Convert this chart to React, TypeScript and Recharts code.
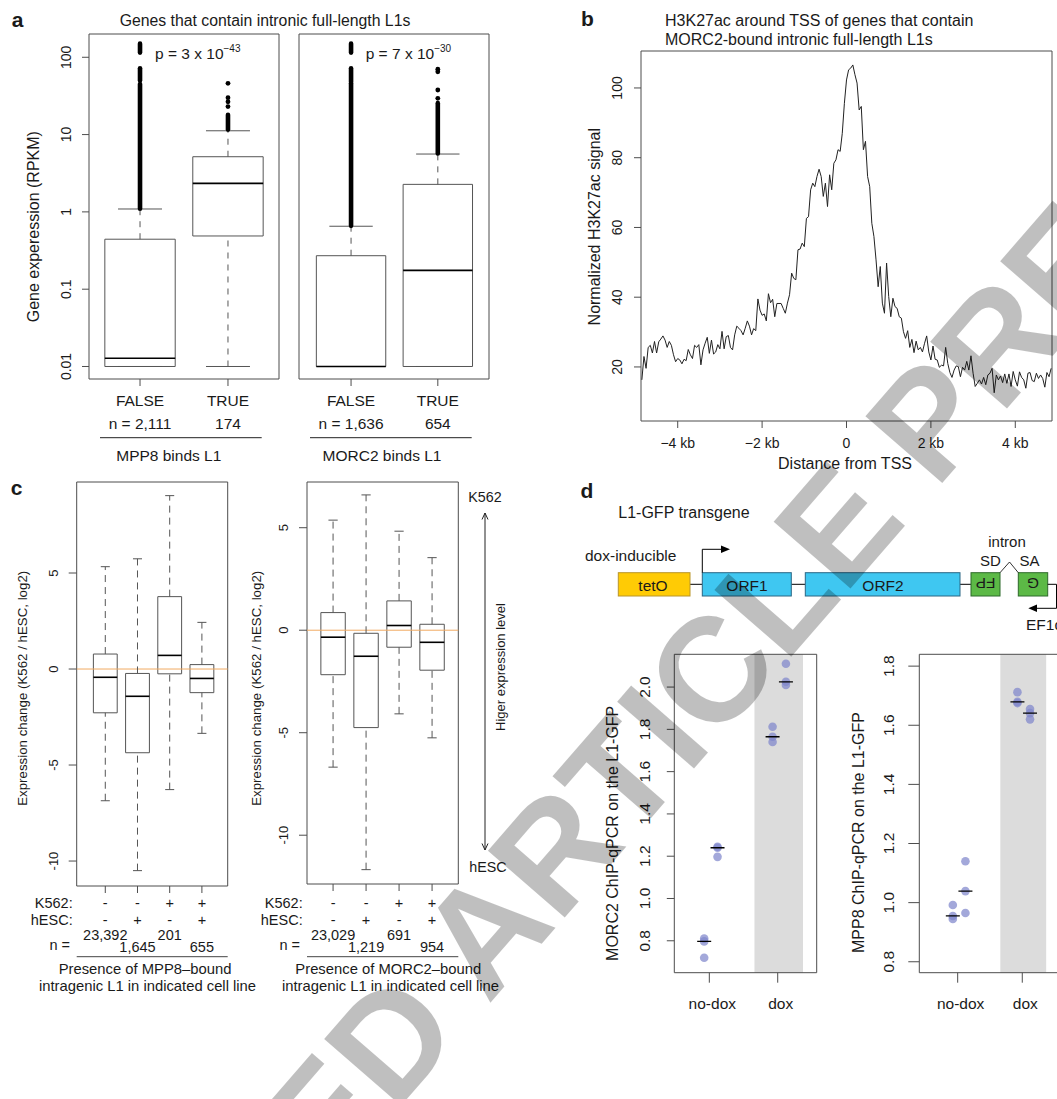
import { ComposedChart, LineChart, Line, XAxis, YAxis, Scatter, ReferenceArea, ReferenceLine } from 'recharts';

const FONT = '"Liberation Sans", Arial, Helvetica, sans-serif';
const INK = '#1a1a1a';
const FRAME = '#4d4d4d';
const BOX = '#555555';
const DOT = '#7f87cc';

// ---- a: expression of genes with intronic full-length L1s (RPKM) ----
const bindLabels = ['FALSE', 'TRUE'];
const mpp8Counts = [2111, 174];
const morc2Counts = [1636, 654];
// [lower whisker, Q1, median, Q3, upper whisker]
const mpp8Expr = [
  [0.01, 0.01, 0.0128, 0.443, 1.09],
  [0.01, 0.488, 2.34, 5.17, 11.2],
];
const morc2Expr = [
  [0.01, 0.01, 0.01, 0.271, 0.652],
  [0.01, 0.01, 0.175, 2.27, 5.6],
];
// dense runs of outliers [from, to] and single outliers
const mpp8OutlierRuns = [[[1.1, 45], [50, 72], [115, 150]], [[11.6, 18]]];
const morc2OutlierRuns = [[[0.66, 46], [48, 72], [115, 150]], [[5.7, 25.5]]];
const mpp8Outliers = [[], [23, 26.6, 30, 46]];
const morc2Outliers = [[], [29.4, 37.7, 65, 70]];
const rpkmTicks = [0.01, 0.1, 1, 10, 100];

// ---- b: H3K27ac profile around TSS, 50 bp bins from -4.85 kb ----
const BIN_START_KB = -4.85;
const BIN_KB = 0.05;
const h3k27acSignal = [
  16.3, 23, 19.6, 25.6, 26.2, 24, 27.3, 24, 27.2, 28.0,
  28.9, 27.7, 25.6, 27.3, 26.2, 23.5, 21.5, 22.4, 22, 20.9,
  22.2, 21.8, 25, 23.5, 22.4, 26.2, 25.6, 26.4, 20.6, 24.9,
  26.8, 28.5, 23.9, 27.7, 23.7, 24.3, 26.4, 25.2, 30.2, 25.2,
  28.7, 29, 25.6, 24.9, 29.2, 31.7, 31.1, 30.4, 29.2, 31.1,
  33.2, 31.7, 29.2, 31, 30.4, 39.5, 36.3, 34.8, 35.2, 33.2,
  41, 38.4, 39.4, 34.4, 38.2, 38.2, 38.2,
  36.8, 35.4, 38.3, 40.7, 46.9, 45.4, 45, 53.6, 53.8, 55.5,
  54.5, 62.6, 63.1, 70.8, 72.7, 71.7, 74.6, 76.7, 74.6, 68.9,
  72.7, 66, 75.1, 70.8, 78.4, 79.4, 82.3, 81.8, 87, 95.6,
  102.3, 105.2, 105.7, 106.6, 103.8, 101.4, 93.7, 94.7, 82.3, 84.7,
  74.6, 71.7, 61.2, 57.4, 50.7, 43, 48.8, 38.3, 35.4, 49.8,
  40.2, 34.4, 39.7, 37.3, 36.8, 34.4,
  34, 30.1, 28.2, 30.4, 25.6, 27.9, 24.1, 27.4, 24.9, 25.6,
  24.3, 26.8, 28.9, 24.3, 22, 26, 22.2, 22, 19.9, 20.5,
  20.3, 25.6, 21, 18.4, 17, 19.1, 20.3, 20.1, 17.2, 19.9,
  19.1, 21.6, 19.1, 23.2, 18.2, 14.4, 15.3, 16.3, 15.1, 17,
  14.9, 17.7, 18.2, 19.6, 12.6, 17.7, 16.3, 17.4, 15.5, 18,
  15.3, 18, 14.4, 18.7, 16.3, 14.5, 18.6, 17, 16.3, 13.9,
  18.2, 18.4, 16.1, 15.8, 18.2, 16.7, 17.7, 16.7, 14.2, 18.4,
  17.2, 19.6,
];
const kbTicks = [-4, -2, 0, 2, 4];
const signalTicks = [20, 40, 60, 80, 100];

// ---- c: expression change K562 / hESC (log2) ----
const k562Present = ['-', '-', '+', '+'];
const hescPresent = ['-', '+', '-', '+'];
const mpp8CellCounts = [23392, 1645, 201, 655];
const morc2CellCounts = [23029, 1219, 691, 954];
const mpp8Change = [
  [-6.86, -2.28, -0.43, 0.78, 5.33],
  [-10.5, -4.36, -1.42, -0.23, 5.74],
  [-6.28, -0.25, 0.71, 3.77, 9.03],
  [-3.35, -1.23, -0.49, 0.23, 2.43],
];
const morc2Change = [
  [-6.68, -2.17, -0.34, 0.86, 5.37],
  [-11.68, -4.75, -1.27, -0.15, 6.6],
  [-4.08, -0.83, 0.23, 1.43, 4.83],
  [-5.25, -1.95, -0.59, 0.29, 3.54],
];
const changeTicks = [-10, -5, 0, 5];

// ---- d: ChIP-qPCR on the L1-GFP transgene ----
const doxConditions = ['no-dox', 'dox'];
// two replicate series, three values per condition
const morc2ChipA = [[0.81, 0.797, 0.72], [1.812, 1.765, 1.74]];
const morc2ChipB = [[1.245, 1.24, 1.197], [2.11, 2.025, 2.01]];
const mpp8ChipA = [[0.992, 0.955, 0.945], [1.712, 1.679, 1.675]];
const mpp8ChipB = [[1.14, 1.039, 0.965], [1.655, 1.641, 1.62]];
const morc2ChipTicks = [0.8, 1.0, 1.2, 1.4, 1.6, 1.8, 2.0];
const mpp8ChipTicks = [0.8, 1.0, 1.2, 1.4, 1.6, 1.8];

type Rect = { x: number; y: number; w: number; h: number };

// axes are 1px wide/high, so the plot area starts right after them
const marginOf = (box: Rect, plot: Rect) => ({
  left: plot.x - box.x - 1,
  top: plot.y - box.y,
  right: box.x + box.w - (plot.x + plot.w),
  bottom: box.y + box.h - (plot.y + plot.h) - 1,
});

const fmtCount = (n: number) => n.toLocaleString('en-US');
const median = (v: number[]) => [...v].sort((a, b) => a - b)[Math.floor(v.length / 2)];

const rotTick = (size: number, label: (v: number) => string) => (props: any) => {
  const { x, y, payload } = props;
  return (
    <text x={x} y={y} transform={`rotate(-90 ${x} ${y})`} textAnchor="middle" dominantBaseline="central"
      fontSize={size} fontFamily={FONT} fill={INK}>
      {label(payload.value)}
    </text>
  );
};

const bindTick = (counts: number[]) => (props: any) => {
  const { x, y, payload } = props;
  const i = Math.round(payload.value) - 1;
  return (
    <g>
      <text x={x} y={y} textAnchor="middle" dominantBaseline="central" fontSize={15.5} fontFamily={FONT} fill={INK}>
        {bindLabels[i]}
      </text>
      <text x={x} y={y + 23.3} textAnchor="middle" dominantBaseline="central" fontSize={15.5} fontFamily={FONT} fill={INK}>
        {i === 0 ? `n = ${fmtCount(counts[i])}` : fmtCount(counts[i])}
      </text>
    </g>
  );
};

const presenceTick = (counts: number[]) => (props: any) => {
  const { x, y, payload } = props;
  const i = Math.round(payload.value) - 1;
  const common = { textAnchor: 'middle' as const, dominantBaseline: 'central' as const, fontSize: 14.5, fontFamily: FONT, fill: INK };
  return (
    <g>
      <text x={x} y={y} {...common}>{k562Present[i]}</text>
      <text x={x} y={y + 16.7} {...common}>{hescPresent[i]}</text>
      <text x={x} y={y + (i % 2 === 0 ? 31.7 : 44)} {...common}>{fmtCount(counts[i])}</text>
    </g>
  );
};

const doxTick = (props: any) => {
  const { x, y, payload } = props;
  return (
    <text x={x + 3} y={y} textAnchor="middle" dominantBaseline="central" fontSize={15.5} fontFamily={FONT} fill={INK}>
      {doxConditions[Math.round(payload.value) - 1]}
    </text>
  );
};

const kbTick = (props: any) => {
  const { x, y, payload } = props;
  const v = payload.value as number;
  const label = v === 0 ? '0' : `${v < 0 ? '\u2212' : ''}${Math.abs(v)} kb`;
  return (
    <text x={x} y={y} textAnchor="middle" dominantBaseline="central" fontSize={14} fontFamily={FONT} fill={INK}>{label}</text>
  );
};

type BoxChartProps = {
  box: Rect;
  plot: Rect;
  xDomain: [number, number];
  yDomain: [number, number];
  log?: boolean;
  stats: number[][];
  halfWidth: number;
  capHalf: number;
  dash: string;
  yTicks: number[];
  yFont: number;
  yTickSize: number;
  yTickMargin: number;
  xTick: (p: any) => any;
  xTickMargin: number;
  runs?: number[][][];
  outliers?: number[][];
  baseline?: number;
};

function BoxChart(p: BoxChartProps) {
  const marks: any[] = [];
  p.stats.forEach(([lo, q1, med, q3, hi], i) => {
    const c = i + 1;
    marks.push(<ReferenceLine key={`wu${i}`} segment={[{ x: c, y: q3 }, { x: c, y: hi }]} stroke={BOX} strokeDasharray={p.dash} ifOverflow="visible" />);
    if (lo < q1) {
      marks.push(<ReferenceLine key={`wl${i}`} segment={[{ x: c, y: lo }, { x: c, y: q1 }]} stroke={BOX} strokeDasharray={p.dash} ifOverflow="visible" />);
    }
    marks.push(<ReferenceLine key={`cu${i}`} segment={[{ x: c - p.capHalf, y: hi }, { x: c + p.capHalf, y: hi }]} stroke={BOX} ifOverflow="visible" />);
    marks.push(<ReferenceLine key={`cl${i}`} segment={[{ x: c - p.capHalf, y: lo }, { x: c + p.capHalf, y: lo }]} stroke={BOX} ifOverflow="visible" />);
    marks.push(<ReferenceArea key={`b${i}`} x1={c - p.halfWidth} x2={c + p.halfWidth} y1={q1} y2={q3} fill="none" fillOpacity={0} stroke={BOX} strokeOpacity={1} ifOverflow="visible" />);
    marks.push(<ReferenceLine key={`m${i}`} segment={[{ x: c - p.halfWidth, y: med }, { x: c + p.halfWidth, y: med }]} stroke="#000" strokeWidth={1.6} ifOverflow="visible" />);
  });
  (p.runs || []).forEach((group, i) =>
    group.forEach(([a, b], j) =>
      marks.push(<ReferenceLine key={`r${i}-${j}`} segment={[{ x: i + 1, y: a }, { x: i + 1, y: b }]} stroke="#000" strokeWidth={4.6} strokeLinecap="round" ifOverflow="visible" />),
    ),
  );
  const pts: { x: number; y: number }[] = [];
  (p.outliers || []).forEach((vals, i) => vals.forEach((v) => pts.push({ x: i + 1, y: v })));

  return (
    <div style={{ position: 'absolute', left: p.box.x, top: p.box.y }}>
      <ComposedChart width={p.box.w} height={p.box.h} margin={marginOf(p.box, p.plot)}>
        <XAxis type="number" dataKey="x" domain={p.xDomain} allowDataOverflow ticks={p.stats.map((_, i) => i + 1)}
          interval={0} height={1} axisLine={false} tickLine={{ stroke: FRAME }} tickSize={7} tickMargin={p.xTickMargin} tick={p.xTick} />
        <YAxis type="number" dataKey="y" scale={p.log ? 'log' : 'linear'} domain={p.yDomain} allowDataOverflow ticks={p.yTicks}
          interval={0} width={1} axisLine={false} tickLine={{ stroke: FRAME }} tickSize={p.yTickSize} tickMargin={p.yTickMargin}
          tick={rotTick(p.yFont, (v) => String(v))} />
        {p.baseline !== undefined && <ReferenceLine y={p.baseline} stroke="#f1aa62" strokeWidth={1} ifOverflow="visible" />}
        <ReferenceArea x1={p.xDomain[0]} x2={p.xDomain[1]} y1={p.yDomain[0]} y2={p.yDomain[1]} fill="none" fillOpacity={0} stroke={FRAME} strokeOpacity={1} ifOverflow="visible" />
        {marks}
        <Scatter data={pts} dataKey="y" isAnimationActive={false}
          shape={(s: any) => <circle cx={s.cx} cy={s.cy} r={2.4} fill="#000" />} />
      </ComposedChart>
    </div>
  );
}

const REP_OFFSET = [-0.075, 0.12];
const DOX_BAND = [1.66, 2.37];

type DotChartProps = {
  box: Rect;
  plot: Rect;
  xDomain: [number, number];
  yDomain: [number, number];
  repA: number[][];
  repB: number[][];
  yTicks: number[];
  yTickSize: number;
  yTickMargin: number;
};

function DotChart(p: DotChartProps) {
  const pts: { x: number; y: number }[] = [];
  const meds: { x: number; y: number }[] = [];
  [p.repA, p.repB].forEach((rep, r) =>
    rep.forEach((vals, g) => {
      const x = g + 1 + REP_OFFSET[r];
      vals.forEach((v) => pts.push({ x, y: v }));
      meds.push({ x, y: median(vals) });
    }),
  );
  return (
    <div style={{ position: 'absolute', left: p.box.x, top: p.box.y }}>
      <ComposedChart width={p.box.w} height={p.box.h} margin={marginOf(p.box, p.plot)}>
        <XAxis type="number" dataKey="x" domain={p.xDomain} allowDataOverflow ticks={[1, 2]} interval={0} height={1}
          axisLine={false} tickLine={{ stroke: FRAME }} tickSize={10} tickMargin={20.6} tick={doxTick} />
        <YAxis type="number" dataKey="y" domain={p.yDomain} allowDataOverflow ticks={p.yTicks} interval={0} width={1}
          axisLine={false} tickLine={{ stroke: FRAME }} tickSize={p.yTickSize} tickMargin={p.yTickMargin}
          tick={rotTick(15.5, (v) => v.toFixed(1))} />
        <ReferenceArea x1={DOX_BAND[0]} x2={DOX_BAND[1]} y1={p.yDomain[0]} y2={p.yDomain[1]} fill="#dcdcdc" fillOpacity={1} stroke="none" ifOverflow="visible" />
        <ReferenceArea x1={p.xDomain[0]} x2={p.xDomain[1]} y1={p.yDomain[0]} y2={p.yDomain[1]} fill="none" fillOpacity={0} stroke={FRAME} strokeOpacity={1} ifOverflow="visible" />
        <Scatter data={pts} dataKey="y" isAnimationActive={false}
          shape={(s: any) => <circle cx={s.cx} cy={s.cy} r={4.3} fill={DOT} fillOpacity={0.72} />} />
        <Scatter data={meds} dataKey="y" isAnimationActive={false}
          shape={(s: any) => <line x1={s.cx - 7} x2={s.cx + 7} y1={s.cy} y2={s.cy} stroke="#000" strokeWidth={1.3} />} />
      </ComposedChart>
    </div>
  );
}

function ProfileChart() {
  const box = { x: 600, y: 45, w: 457, h: 410 };
  const plot = { x: 641, y: 51, w: 411, h: 370 };
  const xDomain: [number, number] = [-4.87, 4.87];
  const yDomain: [number, number] = [4.5, 110.6];
  const data = h3k27acSignal.map((signal, i) => ({ kb: BIN_START_KB + i * BIN_KB, signal }));
  return (
    <div style={{ position: 'absolute', left: box.x, top: box.y }}>
      <LineChart width={box.w} height={box.h} margin={marginOf(box, plot)} data={data}>
        <XAxis type="number" dataKey="kb" domain={xDomain} allowDataOverflow ticks={kbTicks} interval={0} height={1}
          axisLine={false} tickLine={{ stroke: FRAME }} tickSize={7} tickMargin={15.3} tick={kbTick} />
        <YAxis type="number" domain={yDomain} allowDataOverflow ticks={signalTicks} interval={0} width={1}
          axisLine={false} tickLine={{ stroke: FRAME }} tickSize={7} tickMargin={17.3}
          tick={rotTick(14, (v) => String(v))} />
        <ReferenceArea x1={xDomain[0]} x2={xDomain[1]} y1={yDomain[0]} y2={yDomain[1]} fill="none" fillOpacity={0} stroke={FRAME} strokeOpacity={1} ifOverflow="visible" />
        <Line type="linear" dataKey="signal" stroke="#222" strokeWidth={1} dot={false} isAnimationActive={false} />
      </LineChart>
    </div>
  );
}

const T = ({ x, y, size = 15.5, anchor = 'middle', rotate, weight, children }: any) => (
  <text x={x} y={y} fontSize={size} textAnchor={anchor} dominantBaseline="central" fontWeight={weight}
    fill={INK} fontFamily={FONT} transform={rotate ? `rotate(${rotate} ${x} ${y})` : undefined}>
    {children}
  </text>
);

function Annotations() {
  return (
    <svg width={1057} height={1099} style={{ position: 'absolute', left: 0, top: 0 }}>
      {/* panel letters */}
      <T x={17.5} y={19} size={21} weight="bold">a</T>
      <T x={587.5} y={18.5} size={21} weight="bold">b</T>
      <T x={16.5} y={487} size={21} weight="bold">c</T>
      <T x={587} y={490} size={21} weight="bold">d</T>

      {/* a */}
      <T x={265} y={20} size={15.8}>Genes that contain intronic full-length L1s</T>
      <text x={155} y={53.3} fontSize={15.5} dominantBaseline="central" fill={INK} fontFamily={FONT}>
        p = 3 x 10<tspan dy={-5} fontSize={10}>{'\u221243'}</tspan>
      </text>
      <text x={365.7} y={53.3} fontSize={15.5} dominantBaseline="central" fill={INK} fontFamily={FONT}>
        p = 7 x 10<tspan dy={-5} fontSize={10}>{'\u221230'}</tspan>
      </text>
      <T x={33.3} y={226.7} size={16} rotate={-90}>Gene experession (RPKM)</T>
      <line x1={100} x2={261.7} y1={437.7} y2={437.7} stroke="#222" />
      <line x1={310} x2={471.7} y1={437.7} y2={437.7} stroke="#222" />
      <T x={168.8} y={455}>MPP8 binds L1</T>
      <T x={382} y={455}>MORC2 binds L1</T>

      {/* b */}
      <T x={665} y={20} size={16} anchor="start">H3K27ac around TSS of genes that contain</T>
      <T x={665} y={39.3} size={16} anchor="start">MORC2-bound intronic full-length L1s</T>
      <T x={595} y={226.7} size={16} rotate={-90}>Normalized H3K27ac signal</T>
      <T x={845} y={463.5} size={16}>Distance from TSS</T>

      {/* c */}
      <T x={22.7} y={688.3} size={13.3} rotate={-90}>Expression change (K562 / hESC, log2)</T>
      <T x={257} y={688.3} size={13.3} rotate={-90}>Expression change (K562 / hESC, log2)</T>
      <T x={72.7} y={903.3} size={14.5} anchor="end">K562:</T>
      <T x={72.7} y={920} size={14.5} anchor="end">hESC:</T>
      <T x={70} y={945} size={14.5} anchor="end">n =</T>
      <T x={302.7} y={903.3} size={14.5} anchor="end">K562:</T>
      <T x={302.7} y={920} size={14.5} anchor="end">hESC:</T>
      <T x={300} y={945} size={14.5} anchor="end">n =</T>
      <line x1={76.7} x2={227.7} y1={956.7} y2={956.7} stroke="#444" />
      <line x1={307} x2={458.3} y1={956.7} y2={956.7} stroke="#444" />
      <T x={145} y={969} size={14.8}>Presence of MPP8–bound</T>
      <T x={147.5} y={986} size={14.8}>intragenic L1 in indicated cell line</T>
      <T x={388.3} y={969} size={14.8}>Presence of MORC2–bound</T>
      <T x={390.5} y={986} size={14.8}>intragenic L1 in indicated cell line</T>
      <line x1={485} x2={485} y1={513} y2={850} stroke="#222" />
      <polyline points="482,519.5 485,513 488,519.5" fill="none" stroke="#222" />
      <polyline points="482,843.5 485,850 488,843.5" fill="none" stroke="#222" />
      <T x={485} y={497} size={14.3}>K562</T>
      <T x={488} y={866.7} size={14.3}>hESC</T>
      <T x={500} y={667} size={13} rotate={-90}>Higer expression level</T>

      {/* d: transgene diagram */}
      <T x={618.3} y={512.7} size={16} anchor="start">L1-GFP transgene</T>
      <T x={585} y={555} size={15.5} anchor="start">dox-inducible</T>
      <line x1={690} x2={702.3} y1={584.3} y2={584.3} stroke="#000" />
      <line x1={791.3} x2={805.3} y1={584.3} y2={584.3} stroke="#000" />
      <line x1={960} x2={971} y1={584.3} y2={584.3} stroke="#000" />
      <rect x={618.3} y={572.7} width={71.7} height={23.3} fill="#ffcb05" stroke="#b9952a" />
      <rect x={702.3} y={572.7} width={89} height={23.3} fill="#3fc7f1" stroke="#2b6684" />
      <rect x={805.3} y={572.7} width={154.7} height={23.3} fill="#3fc7f1" stroke="#2b6684" />
      <rect x={971} y={572.7} width={29} height={23.3} fill="#5cb946" stroke="#2d6a2a" />
      <rect x={1018.3} y={572.7} width={29.4} height={23.3} fill="#5cb946" stroke="#2d6a2a" />
      <T x={653} y={585.5}>tetO</T>
      <T x={747} y={585.5}>ORF1</T>
      <T x={883} y={585.5}>ORF2</T>
      <T x={985.5} y={583.5} rotate={180}>FP</T>
      <T x={1033} y={583.5} rotate={180}>G</T>
      <polyline points="702.3,572.7 702.3,549.3 722,549.3" fill="none" stroke="#000" />
      <polygon points="730,549.3 721,545.6 721,553" fill="#000" />
      <polyline points="1000,572.7 1009.5,562 1018.3,572.7" fill="none" stroke="#000" strokeWidth={0.8} />
      <T x={1007} y={541} size={15}>intron</T>
      <T x={990.5} y={560.7} size={15}>SD</T>
      <T x={1029.5} y={560.7} size={15}>SA</T>
      <polyline points="1047.7,584.3 1056.5,584.3 1056.5,608.3 1036,608.3" fill="none" stroke="#000" />
      <polygon points="1028.3,608.3 1037,604.6 1037,612" fill="#000" />
      <T x={1026} y={624.3} anchor="start">EF1α</T>

      {/* d: dot plot axis titles */}
      <T x={612.7} y={833.3} size={16} rotate={-90}>MORC2 ChIP-qPCR on the L1-GFP</T>
      <T x={858.3} y={832.5} size={16} rotate={-90}>MPP8 ChIP-qPCR on the L1-GFP</T>
    </svg>
  );
}

function Watermark() {
  const cx = 522;
  const cy = 888;
  return (
    <svg width={1057} height={1099} style={{ position: 'absolute', left: 0, top: 0, pointerEvents: 'none' }}>
      <text x={cx} y={cy} transform={`rotate(-49 ${cx} ${cy})`} textAnchor="middle" dominantBaseline="central"
        fontSize={148} fontWeight="bold" fontFamily={FONT} fill="#000" fillOpacity={0.25}>
        ACCELERATED ARTICLE PREVIEW
      </text>
    </svg>
  );
}

export default function App() {
  return (
    <div style={{ position: 'absolute', left: 0, top: 0, width: 1057, height: 1099, overflow: 'hidden', background: '#fff', fontFamily: FONT }}>
      <BoxChart
        box={{ x: 40, y: 28, w: 250, h: 412 }}
        plot={{ x: 89, y: 34, w: 190, h: 345 }}
        xDomain={[0.42, 2.58]} yDomain={[0.00689, 200]} log
        stats={mpp8Expr} halfWidth={0.4} capHalf={0.25} dash="6 6"
        yTicks={rpkmTicks} yFont={14} yTickSize={7} yTickMargin={15.5}
        xTick={bindTick(mpp8Counts)} xTickMargin={14}
        runs={mpp8OutlierRuns} outliers={mpp8Outliers}
      />
      <BoxChart
        box={{ x: 285, y: 28, w: 215, h: 412 }}
        plot={{ x: 299, y: 34, w: 190, h: 345 }}
        xDomain={[0.4, 2.59]} yDomain={[0.00689, 200]} log
        stats={morc2Expr} halfWidth={0.4} capHalf={0.25} dash="6 6"
        yTicks={[]} yFont={14} yTickSize={0} yTickMargin={0}
        xTick={bindTick(morc2Counts)} xTickMargin={14}
        runs={morc2OutlierRuns} outliers={morc2Outliers}
      />
      <ProfileChart />
      <BoxChart
        box={{ x: 40, y: 475, w: 200, h: 490 }}
        plot={{ x: 76.7, y: 482, w: 151, h: 404 }}
        xDomain={[0.112, 4.801]} yDomain={[-11.3, 9.74]}
        stats={mpp8Change} halfWidth={0.37} capHalf={0.14} dash="7 5"
        yTicks={changeTicks} yFont={13} yTickSize={8} yTickMargin={15.4}
        xTick={presenceTick(mpp8CellCounts)} xTickMargin={10.3}
        baseline={0}
      />
      <BoxChart
        box={{ x: 270, y: 475, w: 200, h: 490 }}
        plot={{ x: 307, y: 482, w: 151.3, h: 402 }}
        xDomain={[0.21, 4.795]} yDomain={[-12.38, 7.23]}
        stats={morc2Change} halfWidth={0.37} capHalf={0.14} dash="7 5"
        yTicks={changeTicks} yFont={13} yTickSize={8} yTickMargin={15.7}
        xTick={presenceTick(morc2CellCounts)} xTickMargin={12.3}
        baseline={0}
      />
      <DotChart
        box={{ x: 630, y: 645, w: 195, h: 375 }}
        plot={{ x: 674.3, y: 654.3, w: 142.4, h: 318.4 }}
        xDomain={[0.488, 2.57]} yDomain={[0.649, 2.155]}
        repA={morc2ChipA} repB={morc2ChipB}
        yTicks={morc2ChipTicks} yTickSize={7.5} yTickMargin={21.8}
      />
      <DotChart
        box={{ x: 875, y: 645, w: 190, h: 375 }}
        plot={{ x: 919.3, y: 654.3, w: 139.8, h: 318.4 }}
        xDomain={[0.406, 2.57]} yDomain={[0.763, 1.84]}
        repA={mpp8ChipA} repB={mpp8ChipB}
        yTicks={mpp8ChipTicks} yTickSize={11} yTickMargin={19.3}
      />
      <Annotations />
      <Watermark />
    </div>
  );
}
